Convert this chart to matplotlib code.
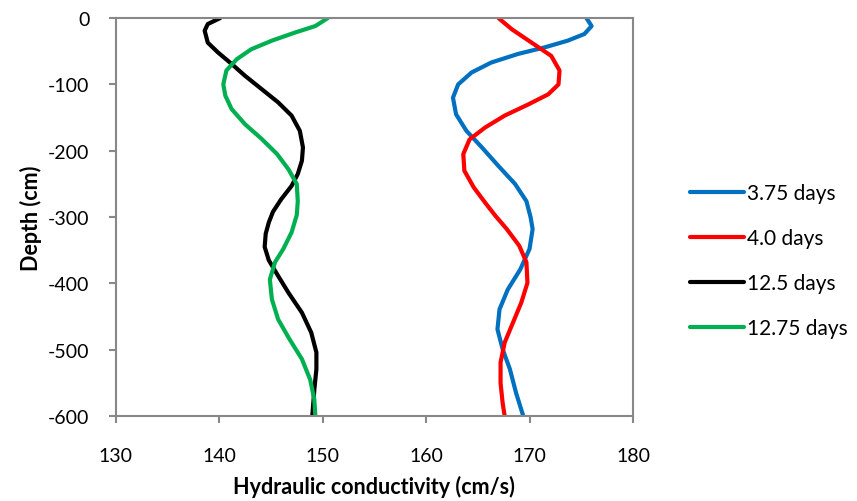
import matplotlib
matplotlib.use("Agg")
import matplotlib.pyplot as plt

plt.rcParams['font.family'] = ['Lato', 'DejaVu Sans']
plt.rcParams['axes.unicode_minus'] = False

labels = ["3.75 days", "4.0 days", "12.5 days", "12.75 days"]
colors = ["#0070C0", "#FF0000", "#000000", "#00B050"]

depth_375 = [0, -12, -24, -34, -44, -54, -67, -82, -100, -120, -145, -170, -195, -223, -250, -276, -300, -318, -348, -379, -409, -439, -469, -499, -529, -565, -600]
k_375 = [175.5, 176.0, 175.3, 173.7, 171.5, 168.9, 166.3, 164.4, 163.1, 162.6, 162.9, 163.9, 165.4, 167.0, 168.6, 169.7, 170.1, 170.3, 170.0, 169.1, 167.9, 167.1, 166.9, 167.4, 168.1, 168.7, 169.4]

depth_40 = [0, -17, -37, -57, -79, -100, -115, -130, -147, -165, -183, -205, -230, -255, -278, -298, -318, -343, -368, -399, -429, -459, -489, -519, -550, -580, -600]
k_40 = [167.0, 168.3, 170.2, 172.1, 172.9, 172.8, 171.8, 169.9, 167.6, 165.7, 164.2, 163.6, 163.7, 164.6, 165.7, 166.7, 167.8, 169.0, 169.7, 169.8, 169.2, 168.4, 167.6, 167.2, 167.2, 167.4, 167.6]

depth_125 = [0, -9, -19, -37, -52, -69, -87, -107, -127, -147, -170, -195, -215, -235, -253, -273, -292, -308, -325, -345, -365, -386, -414, -444, -474, -504, -529, -560, -600]
k_125 = [140.1, 138.9, 138.6, 138.9, 139.9, 141.2, 142.5, 144.1, 145.7, 147.0, 147.8, 148.1, 148.0, 147.6, 147.0, 146.0, 145.2, 144.8, 144.5, 144.4, 144.8, 145.6, 146.7, 148.0, 148.9, 149.4, 149.4, 149.2, 149.0]

depth_1275 = [0, -12, -22, -34, -47, -62, -79, -100, -117, -137, -160, -182, -205, -228, -250, -276, -297, -323, -348, -368, -394, -424, -454, -484, -514, -545, -575, -600]
k_1275 = [150.5, 149.3, 147.3, 145.1, 143.1, 141.7, 140.7, 140.4, 140.6, 141.2, 142.5, 144.1, 145.6, 146.7, 147.5, 147.6, 147.5, 147.0, 146.2, 145.4, 144.9, 145.1, 145.7, 146.8, 148.0, 148.8, 149.2, 149.3]

x_ticks = [130, 140, 150, 160, 170, 180]
y_ticks = [0, -100, -200, -300, -400, -500, -600]

fig = plt.figure(figsize=(8.57, 5.02), dpi=100)
ax = fig.add_axes([0.135, 0.169, 0.6036, 0.793])

series = [(k_375, depth_375), (k_40, depth_40), (k_125, depth_125), (k_1275, depth_1275)]
for (k, d), lab, c in zip(series, labels, colors):
    ax.plot(k, d, color=c, lw=3, label=lab, solid_joinstyle='round', solid_capstyle='round')

ax.set_xlim(130, 180)
ax.set_ylim(-600, 0)
ax.set_xticks(x_ticks)
ax.set_yticks(y_ticks)
ax.set_xticklabels([str(v) for v in x_ticks])
ax.set_yticklabels([str(v) for v in y_ticks])
for s in ax.spines.values():
    s.set_color("#888888")
    s.set_linewidth(1.5)
ax.tick_params(axis='both', colors='#888888', labelcolor='black', labelsize=14, direction='out', length=5, width=1.5)
ax.tick_params(axis='x', pad=17)
ax.tick_params(axis='y', pad=14)
ax.set_xlabel("Hydraulic conductivity (cm/s)", fontsize=15.5, fontweight='bold', labelpad=8)
ax.set_ylabel("Depth (cm)", fontsize=15.5, fontweight='bold', labelpad=4.5)

leg = fig.legend(loc='center left', bbox_to_anchor=(0.805, 0.479), frameon=False,
                 fontsize=15, handlelength=2.6, handletextpad=0.12, labelspacing=1.2,
                 borderpad=0, borderaxespad=0)

fig.savefig("out.png", dpi=100)
